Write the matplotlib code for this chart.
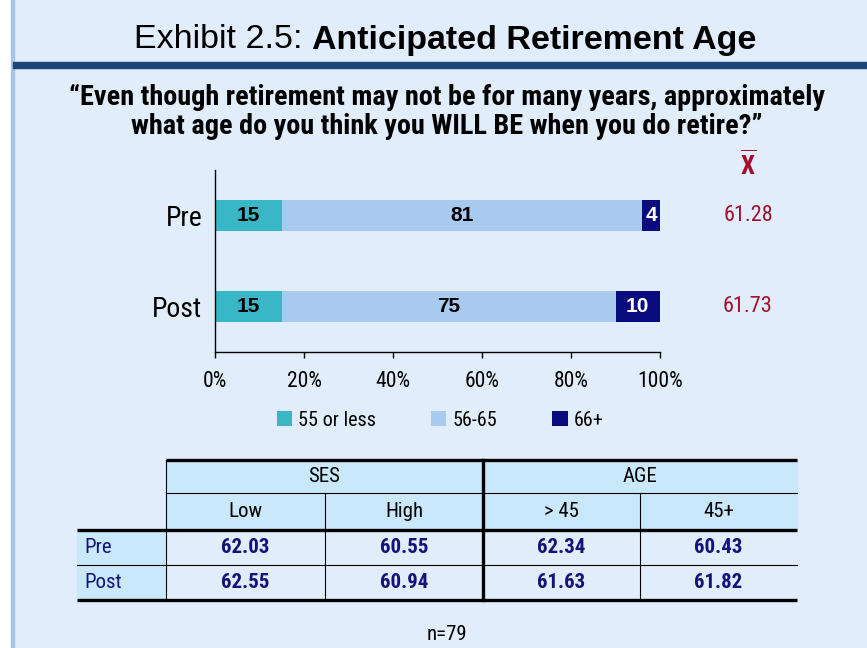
import matplotlib
matplotlib.use("Agg")
import matplotlib.pyplot as plt
from matplotlib import font_manager as fm
from matplotlib.patches import Rectangle

names = {f.name for f in fm.fontManager.ttflist}
NARROW = "Liberation Sans Narrow" if "Liberation Sans Narrow" in names else "Roboto Condensed" if "Roboto Condensed" in names else "Liberation Sans"
SANS = "Liberation Sans"

# ---------------- data ----------------
groups = ["Pre", "Post"]
series_names = ["55 or less", "56-65", "66+"]
s_55_or_less = [15, 15]
s_56_65 = [81, 75]
s_66_plus = [4, 10]
means = ["61.28", "61.73"]
x_ticks = [0, 20, 40, 60, 80, 100]
x_tick_labels = ["0%", "20%", "40%", "60%", "80%", "100%"]

table_groups = ["SES", "AGE"]
table_cols = ["Low", "High", "> 45", "45+"]
table_rows = ["Pre", "Post"]
table_pre = ["62.03", "60.55", "62.34", "60.43"]
table_post = ["62.55", "60.94", "61.63", "61.82"]
n_label = "n=79"

# ---------------- styles ----------------
BG = "#e1edfa"
C1, C2, C3 = "#3ab7c7", "#a8caee", "#0b0b80"
RED = "#a3102e"
NAVY = "#13137a"
HEAD = "#c9e8fb"

W, H = 867, 648
fig = plt.figure(figsize=(W / 100, H / 100), dpi=100)
fig.patch.set_facecolor(BG)

# overlay axes in pixel coordinates
ov = fig.add_axes([0, 0, 1, 1])
ov.set_xlim(0, W)
ov.set_ylim(H, 0)
ov.axis("off")
ov.add_patch(Rectangle((0, 0), 11, H, color="white", zorder=0))
ov.add_patch(Rectangle((11, 0), 2.5, H, color="#a9c2ea", zorder=0))
ov.add_patch(Rectangle((13, 61.5), W, 6, color="#1b4677", zorder=1))

# title (regular + bold part, centred together)
fig.canvas.draw()
r = fig.canvas.get_renderer()
t1 = ov.text(0, 40, "Exhibit 2.5: ", fontsize=24.5, family=SANS, va="center", ha="left")
t2 = ov.text(0, 40, "Anticipated Retirement Age", fontsize=24.5, family=SANS,
             fontweight="bold", va="center", ha="left")
w1 = t1.get_window_extent(r).width
w2 = t2.get_window_extent(r).width
x0 = 445 - (w1 + w2) / 2
t1.set_x(x0)
t2.set_x(x0 + w1)

ov.text(447, 97, "\u201cEven though retirement may not be for many years, approximately",
        fontsize=20.3, family=NARROW, fontweight="bold", ha="center", va="center")
ov.text(447, 127, "what age do you think you WILL BE when you do retire?\u201d",
        fontsize=20.3, family=NARROW, fontweight="bold", ha="center", va="center")

# ---------------- bar chart ----------------
ax = fig.add_axes([215 / W, (H - 352) / H, 445 / W, 182 / H])
ax.set_facecolor("none")
ypos = [1, 0]
colors = [C1, C2, C3]
left = [0, 0]
for vals, c, name in zip([s_55_or_less, s_56_65, s_66_plus], colors, series_names):
    bars = ax.barh(ypos, vals, left=left, height=0.34, color=c, label=name, zorder=2)
    tc = "white" if c == C3 else "black"
    for b, v in zip(bars, vals):
        ax.text(b.get_x() + b.get_width() / 2, b.get_y() + b.get_height() / 2, str(v),
                ha="center", va="center", fontsize=15, fontweight="bold", family=SANS,
                color=tc, zorder=3)
    left = [l + v for l, v in zip(left, vals)]

ax.set_xlim(0, 100)
ax.set_ylim(-0.5, 1.5)
ax.set_xticks(x_ticks)
ax.set_xticklabels(x_tick_labels, family=NARROW, fontsize=15.5)
ax.set_yticks(ypos)
ax.set_yticklabels(groups, family=NARROW, fontsize=20)
ax.tick_params(axis="y", length=0, pad=9)
ax.tick_params(axis="x", length=4, width=1, pad=10, direction="out")
for s in ["top", "right"]:
    ax.spines[s].set_visible(False)
ax.spines["left"].set_linewidth(1)
ax.spines["bottom"].set_linewidth(1)

mx = (748 - 215) / 445 * 100
for yp, m in zip(ypos, means):
    ax.text(mx, yp, m, ha="center", va="center", fontsize=16, family=NARROW,
            color=RED, clip_on=False)
plt.rcParams["mathtext.fontset"] = "custom"
plt.rcParams["mathtext.bf"] = f"{NARROW}:bold"
plt.rcParams["mathtext.rm"] = NARROW
ov.text(748, 165, r"$\overline{\mathbf{X}}$", ha="center", va="center", fontsize=18,
        color=RED)

leg = ax.legend(ncol=3, loc="center", bbox_to_anchor=(440 / W, (H - 420) / H),
                bbox_transform=fig.transFigure, frameon=False,
                prop={"family": NARROW, "size": 14.5}, handlelength=0.75,
                handleheight=0.75, handletextpad=0.3, columnspacing=2.75)

# ---------------- table ----------------
xs = [77, 166, 325, 483, 640, 797]
ys = [460, 493, 530, 565, 600]
ov.add_patch(Rectangle((xs[1], ys[0]), xs[-1] - xs[1], ys[2] - ys[0], color=HEAD, zorder=1))
ov.add_patch(Rectangle((xs[0], ys[2]), xs[1] - xs[0], ys[4] - ys[2], color=HEAD, zorder=1))
# horizontal lines
ov.plot([xs[1], xs[-1]], [ys[0], ys[0]], color="black", lw=2.4, zorder=3, solid_capstyle="butt")
ov.plot([xs[1], xs[-1]], [ys[1], ys[1]], color="black", lw=0.8, zorder=3)
ov.plot([xs[0], xs[-1]], [ys[2], ys[2]], color="black", lw=2.4, zorder=3, solid_capstyle="butt")
ov.plot([xs[0], xs[-1]], [ys[3], ys[3]], color="black", lw=0.8, zorder=3)
ov.plot([xs[0], xs[-1]], [ys[4], ys[4]], color="black", lw=2.4, zorder=3, solid_capstyle="butt")
# vertical lines
ov.plot([xs[1], xs[1]], [ys[0], ys[4]], color="black", lw=0.8, zorder=3)
ov.plot([xs[3], xs[3]], [ys[0], ys[4]], color="black", lw=2.4, zorder=3)
ov.plot([xs[2], xs[2]], [ys[1], ys[4]], color="black", lw=0.8, zorder=3)
ov.plot([xs[4], xs[4]], [ys[1], ys[4]], color="black", lw=0.8, zorder=3)

tfs = 15
for i, g in enumerate(table_groups):
    cx = (xs[1 + 2 * i] + xs[3 + 2 * i]) / 2
    ov.text(cx, (ys[0] + ys[1]) / 2, g, ha="center", va="center", fontsize=tfs, family=NARROW)
for i, c in enumerate(table_cols):
    cx = (xs[1 + i] + xs[2 + i]) / 2
    ov.text(cx, (ys[1] + ys[2]) / 2, c, ha="center", va="center", fontsize=tfs, family=NARROW)
for j, (rl, vals) in enumerate(zip(table_rows, [table_pre, table_post])):
    cy = (ys[2 + j] + ys[3 + j]) / 2
    ov.text(xs[0] + 7, cy, rl, ha="left", va="center", fontsize=tfs, family=NARROW, color=NAVY)
    for i, v in enumerate(vals):
        cx = (xs[1 + i] + xs[2 + i]) / 2
        ov.text(cx, cy, v, ha="center", va="center", fontsize=tfs, family=NARROW,
                color=NAVY, fontweight="bold")

ov.text(447, 635, n_label, ha="center", va="center", fontsize=15, family=NARROW)

fig.savefig("out.png", dpi=100, facecolor=BG)
